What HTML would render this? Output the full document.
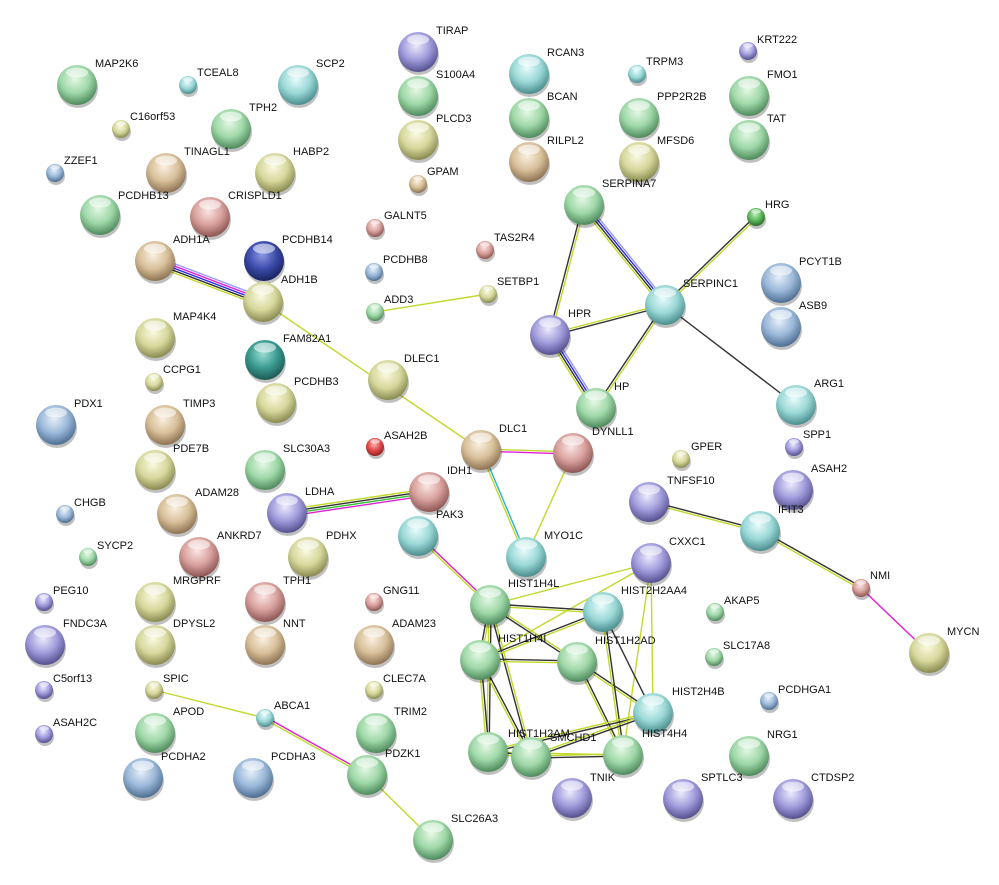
<!DOCTYPE html>
<html><head><meta charset="utf-8"><style>
html,body{margin:0;padding:0;background:#fff;}
svg{display:block;}
text{font-family:"Liberation Sans",sans-serif;font-size:11px;fill:#111;}
</style></head><body>
<svg id="s" width="999" height="885" viewBox="0 0 999 885" xmlns="http://www.w3.org/2000/svg">
<defs>
<radialGradient id="g" cx="45%" cy="35%" r="65%"><stop offset="0" stop-color="#e4f8e4"/><stop offset=".55" stop-color="#9fd8a8"/><stop offset="1" stop-color="#4e8a5c"/></radialGradient>
<radialGradient id="t" cx="45%" cy="35%" r="65%"><stop offset="0" stop-color="#e8fcfc"/><stop offset=".55" stop-color="#9ad8d6"/><stop offset="1" stop-color="#4a8e8e"/></radialGradient>
<radialGradient id="b" cx="45%" cy="35%" r="65%"><stop offset="0" stop-color="#e6f0fa"/><stop offset=".55" stop-color="#9ab8d8"/><stop offset="1" stop-color="#4e6e92"/></radialGradient>
<radialGradient id="p" cx="45%" cy="35%" r="65%"><stop offset="0" stop-color="#eceafc"/><stop offset=".55" stop-color="#a09cdc"/><stop offset="1" stop-color="#55508e"/></radialGradient>
<radialGradient id="n" cx="45%" cy="35%" r="65%"><stop offset="0" stop-color="#faf0e0"/><stop offset=".55" stop-color="#d8c09a"/><stop offset="1" stop-color="#8e7352"/></radialGradient>
<radialGradient id="r" cx="45%" cy="35%" r="65%"><stop offset="0" stop-color="#fae6e4"/><stop offset=".55" stop-color="#d8a09c"/><stop offset="1" stop-color="#8e5652"/></radialGradient>
<radialGradient id="y" cx="45%" cy="35%" r="65%"><stop offset="0" stop-color="#fafae2"/><stop offset=".55" stop-color="#d6d89c"/><stop offset="1" stop-color="#8a8a50"/></radialGradient>
<radialGradient id="R" cx="45%" cy="35%" r="65%"><stop offset="0" stop-color="#f8b0b0"/><stop offset=".55" stop-color="#e04848"/><stop offset="1" stop-color="#902020"/></radialGradient>
<radialGradient id="D" cx="45%" cy="35%" r="65%"><stop offset="0" stop-color="#8a98e4"/><stop offset=".55" stop-color="#3a4aa8"/><stop offset="1" stop-color="#1a2460"/></radialGradient>
<radialGradient id="G" cx="45%" cy="35%" r="65%"><stop offset="0" stop-color="#c0ecb8"/><stop offset=".55" stop-color="#5cb85c"/><stop offset="1" stop-color="#2c6a2c"/></radialGradient>
<radialGradient id="F" cx="45%" cy="35%" r="65%"><stop offset="0" stop-color="#9adcd2"/><stop offset=".55" stop-color="#3a9a90"/><stop offset="1" stop-color="#1c5a55"/></radialGradient>
</defs>
<g id="edges"></g>
<g id="nodes"></g>
<g id="labels">
<text x="95" y="67">MAP2K6</text>
<text x="197" y="76">TCEAL8</text>
<text x="316" y="67">SCP2</text>
<text x="436" y="34">TIRAP</text>
<text x="436" y="78">S100A4</text>
<text x="547" y="56">RCAN3</text>
<text x="646" y="65">TRPM3</text>
<text x="757" y="43">KRT222</text>
<text x="767" y="78">FMO1</text>
<text x="130" y="120">C16orf53</text>
<text x="249" y="111">TPH2</text>
<text x="436" y="122">PLCD3</text>
<text x="547" y="100">BCAN</text>
<text x="657" y="100">PPP2R2B</text>
<text x="767" y="122">TAT</text>
<text x="64" y="164">ZZEF1</text>
<text x="184" y="155">TINAGL1</text>
<text x="293" y="155">HABP2</text>
<text x="427" y="175">GPAM</text>
<text x="547" y="144">RILPL2</text>
<text x="657" y="144">MFSD6</text>
<text x="118" y="199">PCDHB13</text>
<text x="228" y="199">CRISPLD1</text>
<text x="602" y="187">SERPINA7</text>
<text x="384" y="219">GALNT5</text>
<text x="765" y="208">HRG</text>
<text x="173" y="243">ADH1A</text>
<text x="282" y="243">PCDHB14</text>
<text x="494" y="241">TAS2R4</text>
<text x="383" y="263">PCDHB8</text>
<text x="799" y="265">PCYT1B</text>
<text x="281" y="283">ADH1B</text>
<text x="497" y="285">SETBP1</text>
<text x="683" y="287">SERPINC1</text>
<text x="799" y="309">ASB9</text>
<text x="384" y="303">ADD3</text>
<text x="173" y="320">MAP4K4</text>
<text x="568" y="317">HPR</text>
<text x="283" y="342">FAM82A1</text>
<text x="404" y="362">DLEC1</text>
<text x="163" y="373">CCPG1</text>
<text x="614" y="390">HP</text>
<text x="814" y="387">ARG1</text>
<text x="74" y="407">PDX1</text>
<text x="183" y="407">TIMP3</text>
<text x="294" y="385">PCDHB3</text>
<text x="384" y="439">ASAH2B</text>
<text x="499" y="432">DLC1</text>
<text x="592" y="435">DYNLL1</text>
<text x="691" y="450">GPER</text>
<text x="803" y="438">SPP1</text>
<text x="173" y="452">PDE7B</text>
<text x="283" y="452">SLC30A3</text>
<text x="447" y="474">IDH1</text>
<text x="667" y="484">TNFSF10</text>
<text x="811" y="472">ASAH2</text>
<text x="74" y="506">CHGB</text>
<text x="195" y="496">ADAM28</text>
<text x="305" y="495">LDHA</text>
<text x="436" y="518">PAK3</text>
<text x="778" y="513">IFIT3</text>
<text x="544" y="539">MYO1C</text>
<text x="669" y="545">CXXC1</text>
<text x="97" y="549">SYCP2</text>
<text x="217" y="539">ANKRD7</text>
<text x="326" y="539">PDHX</text>
<text x="870" y="579">NMI</text>
<text x="173" y="584">MRGPRF</text>
<text x="283" y="584">TPH1</text>
<text x="383" y="594">GNG11</text>
<text x="508" y="587">HIST1H4L</text>
<text x="53" y="594">PEG10</text>
<text x="63" y="627">FNDC3A</text>
<text x="724" y="604">AKAP5</text>
<text x="621" y="594">HIST2H2AA4</text>
<text x="173" y="627">DPYSL2</text>
<text x="283" y="627">NNT</text>
<text x="392" y="627">ADAM23</text>
<text x="498" y="642">HIST1H4I</text>
<text x="595" y="644">HIST1H2AD</text>
<text x="723" y="649">SLC17A8</text>
<text x="947" y="635">MYCN</text>
<text x="53" y="682">C5orf13</text>
<text x="163" y="682">SPIC</text>
<text x="383" y="682">CLEC7A</text>
<text x="274" y="709">ABCA1</text>
<text x="672" y="695">HIST2H4B</text>
<text x="778" y="693">PCDHGA1</text>
<text x="173" y="715">APOD</text>
<text x="394" y="715">TRIM2</text>
<text x="53" y="726">ASAH2C</text>
<text x="508" y="737">HIST1H2AM</text>
<text x="550" y="741">SMCHD1</text>
<text x="642" y="737">HIST4H4</text>
<text x="767" y="738">NRG1</text>
<text x="161" y="760">PCDHA2</text>
<text x="271" y="760">PCDHA3</text>
<text x="385" y="757">PDZK1</text>
<text x="590" y="781">TNIK</text>
<text x="701" y="781">SPTLC3</text>
<text x="811" y="781">CTDSP2</text>
<text x="451" y="822">SLC26A3</text>
</g>
</svg>
<script>
var N={MAP2K6:[77,85,1,'g'],TCEAL8:[188,85,0,'t'],SCP2:[298,85,1,'t'],TIRAP:[418,52,1,'p'],S100A4:[418,96,1,'g'],RCAN3:[529,74,1,'t'],TRPM3:[637,74,0,'t'],KRT222:[748,51,0,'p'],FMO1:[749,96,1,'g'],C16orf53:[121,129,0,'y'],TPH2:[231,129,1,'g'],PLCD3:[418,140,1,'y'],BCAN:[529,118,1,'g'],PPP2R2B:[639,118,1,'g'],TAT:[749,140,1,'g'],ZZEF1:[55,173,0,'b'],TINAGL1:[166,173,1,'n'],HABP2:[275,173,1,'y'],GPAM:[418,184,0,'n'],RILPL2:[529,162,1,'n'],MFSD6:[639,162,1,'y'],PCDHB13:[100,215,1,'g'],CRISPLD1:[210,217,1,'r'],SERPINA7:[584,205,1,'g'],GALNT5:[375,228,0,'r'],HRG:[756,217,0,'G'],ADH1A:[155,261,1,'n'],PCDHB14:[264,261,1,'D'],TAS2R4:[485,250,0,'r'],PCDHB8:[374,272,0,'b'],PCYT1B:[781,283,1,'b'],ADH1B:[263,302,1,'y'],SETBP1:[488,294,0,'y'],SERPINC1:[665,305,1,'t'],ASB9:[781,327,1,'b'],ADD3:[375,312,0,'g'],MAP4K4:[155,338,1,'y'],HPR:[550,335,1,'p'],FAM82A1:[265,360,1,'F'],DLEC1:[388,380,1,'y'],CCPG1:[154,382,0,'y'],HP:[596,408,1,'g'],ARG1:[796,405,1,'t'],PDX1:[56,425,1,'b'],TIMP3:[165,425,1,'n'],PCDHB3:[276,403,1,'y'],ASAH2B:[375,447,0,'R'],DLC1:[481,450,1,'n'],DYNLL1:[573,453,1,'r'],GPER:[681,459,0,'y'],SPP1:[794,447,0,'p'],PDE7B:[155,470,1,'y'],SLC30A3:[265,470,1,'g'],IDH1:[429,492,1,'r'],TNFSF10:[649,502,1,'p'],ASAH2:[793,490,1,'p'],CHGB:[65,514,0,'b'],ADAM28:[177,514,1,'n'],LDHA:[287,513,1,'p'],PAK3:[418,536,1,'t'],IFIT3:[760,531,1,'t'],MYO1C:[526,557,1,'t'],CXXC1:[651,563,1,'p'],SYCP2:[88,557,0,'g'],ANKRD7:[199,557,1,'r'],PDHX:[308,557,1,'y'],NMI:[861,588,0,'r'],MRGPRF:[155,602,1,'y'],TPH1:[265,602,1,'r'],GNG11:[374,602,0,'r'],HIST1H4L:[490,605,1,'g'],PEG10:[44,602,0,'p'],FNDC3A:[45,645,1,'p'],AKAP5:[715,612,0,'g'],HIST2H2AA4:[603,612,1,'t'],DPYSL2:[155,645,1,'y'],NNT:[265,645,1,'n'],ADAM23:[374,645,1,'n'],HIST1H4I:[480,660,1,'g'],HIST1H2AD:[577,662,1,'g'],SLC17A8:[714,657,0,'g'],MYCN:[929,653,1,'y'],C5orf13:[44,690,0,'p'],SPIC:[154,690,0,'y'],CLEC7A:[374,690,0,'y'],ABCA1:[265,718,0,'t'],HIST2H4B:[653,713,1,'t'],PCDHGA1:[769,701,0,'b'],APOD:[155,733,1,'g'],TRIM2:[376,733,1,'g'],ASAH2C:[44,734,0,'p'],HIST1H2AM:[488,752,1,'g'],SMCHD1:[531,757,1,'g'],HIST4H4:[623,755,1,'g'],NRG1:[749,756,1,'g'],PCDHA2:[143,778,1,'b'],PCDHA3:[253,778,1,'b'],PDZK1:[367,775,1,'g'],TNIK:[572,798,1,'p'],SPTLC3:[683,799,1,'p'],CTDSP2:[793,799,1,'p'],SLC26A3:[433,840,1,'g']};
var Y='#c2d82a',K='#333',B='#2a2ae8',LB='#9a9aff',M='#e020d8',C='#28b0e0',Gr='#30c030';
var E=[['ADH1A','ADH1B',[LB,M,B,K,Y]],['ADH1B','DLC1',[Y]],['ADD3','SETBP1',[Y]],['SERPINA7','HPR',[Y,K]],['SERPINA7','SERPINC1',[LB,B,K,Y]],['HRG','SERPINC1',[Y,K]],['HPR','SERPINC1',[Y,K]],['HPR','HP',[LB,B,K,Y]],['HP','SERPINC1',[K,Y]],['SERPINC1','ARG1',[K]],['DLC1','DYNLL1',[Y,M]],['DLC1','MYO1C',[C,Y]],['DYNLL1','MYO1C',[Y]],['LDHA','IDH1',[Y,K,Gr,M]],['PAK3','HIST1H4L',[M,Y]],['TNFSF10','IFIT3',[K,Y]],['IFIT3','NMI',[K,Y]],['NMI','MYCN',[M]],['SPIC','ABCA1',[Y]],['ABCA1','PDZK1',[M,Y]],['PDZK1','SLC26A3',[Y]],
['CXXC1','HIST1H4L',[Y]],['CXXC1','HIST1H4I',[Y]],['CXXC1','HIST2H4B',[Y]],['CXXC1','HIST4H4',[Y]],
['HIST1H4L','HIST2H2AA4',[K,Y]],['HIST1H4L','HIST1H4I',[Y,K]],['HIST1H4L','HIST1H2AD',[Y,K]],['HIST1H4L','HIST1H2AM',[K,Y]],['HIST1H4L','SMCHD1',[Y,K]],['HIST1H4I','HIST2H2AA4',[K,Y]],['HIST1H4I','HIST1H2AD',[K,Y]],['HIST1H4I','HIST1H2AM',[K,Y]],['HIST1H4I','SMCHD1',[K,Y]],['HIST1H2AD','HIST2H4B',[K,Y]],['HIST1H2AD','HIST4H4',[K,Y]],['HIST2H2AA4','HIST4H4',[K,Y]],['HIST2H2AA4','HIST2H4B',[K]],['HIST2H4B','HIST1H2AM',[K,Y]],['HIST2H4B','SMCHD1',[K,Y]],['HIST4H4','SMCHD1',[K,Y]],['HIST4H4','HIST1H2AM',[Y]],['HIST1H2AM','SMCHD1',[K,Y]]];
var ns='http://www.w3.org/2000/svg',eg=document.getElementById('edges'),ng=document.getElementById('nodes');
function el(t,a,p){var e=document.createElementNS(ns,t);for(var k in a)e.setAttribute(k,a[k]);p.appendChild(e);return e;}
E.forEach(function(e){var a=N[e[0]],b=N[e[1]],dx=b[0]-a[0],dy=b[1]-a[1],L=Math.sqrt(dx*dx+dy*dy),px=-dy/L,py=dx/L,n=e[2].length;
e[2].forEach(function(c,i){var o=(i-(n-1)/2)*2.2;el('line',{x1:a[0]+px*o,y1:a[1]+py*o,x2:b[0]+px*o,y2:b[1]+py*o,stroke:c,'stroke-width':1.4},eg);});});
for(var k in N){var v=N[k],r=v[2]?20:9;
el('circle',{cx:v[0]+1,cy:v[1]+3,r:r,fill:'#000',opacity:.25},ng);
el('circle',{cx:v[0],cy:v[1],r:r,fill:'url(#'+v[3]+')'},ng);
el('ellipse',{cx:v[0],cy:v[1]-r*0.62,rx:r*0.55,ry:r*0.25,fill:'#fff',opacity:.55},ng);}
</script>
</body></html>
